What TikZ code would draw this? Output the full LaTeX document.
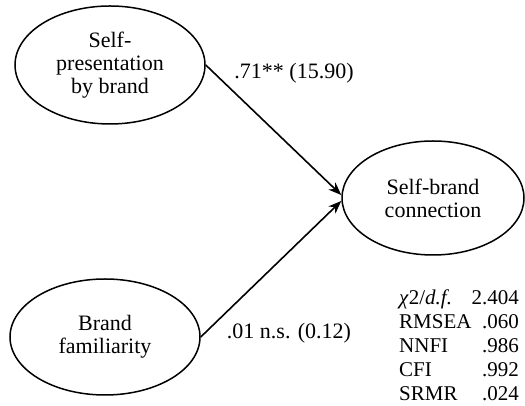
\documentclass[tikz,border=0pt]{standalone}
\usepackage{fontspec}
\setmainfont{Liberation Serif}
\usetikzlibrary{shapes.geometric,arrows.meta}
\begin{document}
\begin{tikzpicture}[x=1pt,y=1pt,
  latent/.style={ellipse,draw,line width=1.5pt,inner sep=0pt,align=center,
    font=\fontsize{22}{23}\selectfont},
  path/.style={line width=1.6pt,-{Stealth[length=13pt,width=10pt]}},
  coef/.style={font=\fontsize{22}{23}\selectfont},
  fitlab/.style={font=\fontsize{21}{23}\selectfont,anchor=base west,inner sep=0pt},
  fitval/.style={font=\fontsize{21}{23}\selectfont,anchor=base east,inner sep=0pt}]
\useasboundingbox (0,0) rectangle (525,406);

% latent constructs
\node[latent,minimum width=190pt,minimum height=118pt] (spb) at (110,341) {Self-\\presentation\\by brand};
\node[latent,minimum width=182pt,minimum height=114pt] (sbc) at (433,208) {Self-brand\\connection};
\node[latent,minimum width=190pt,minimum height=116pt] (bf) at (105,69) {Brand\\familiarity};

% structural paths
\draw[path] (spb.east) -- ([yshift=3pt]sbc.west);
\draw[path] (bf.east) -- ([yshift=-3pt]sbc.west);

% path coefficients
\node[coef] (c1) at (294,333) {.71** (15.90)};
\node[coef] (c2) at (289,73) {.01 n.s. (0.12)};

% model fit indices
\node[fitlab] (l1) at (399,101) {\textit{χ}2/\textit{d.f.}};
\node[fitval] (v1) at (519,101) {2.404};
\node[fitlab] (l2) at (399,77) {RMSEA};
\node[fitval] (v2) at (519,77) {.060};
\node[fitlab] (l3) at (399,53) {NNFI};
\node[fitval] (v3) at (519,53) {.986};
\node[fitlab] (l4) at (399,29) {CFI};
\node[fitval] (v4) at (519,29) {.992};
\node[fitlab] (l5) at (399,5) {SRMR};
\node[fitval] (v5) at (519,5) {.024};
\end{tikzpicture}
\end{document}
